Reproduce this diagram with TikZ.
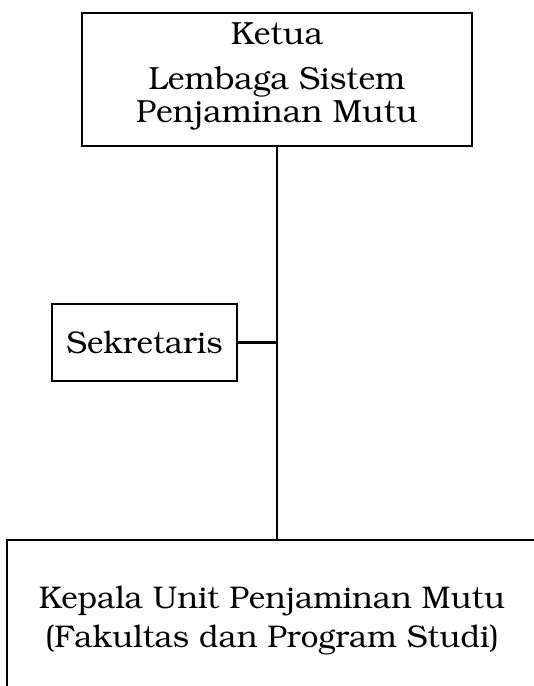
\documentclass[tikz,border=0pt]{standalone}
\usepackage[T1]{fontenc}
\usepackage{bookman}
\usepackage{xcolor}
\usetikzlibrary{calc,positioning}
\definecolor{ink}{HTML}{000000}
\definecolor{paper}{HTML}{FFFFFF}
\tikzset{
  box/.style={draw=ink, line width=2.1pt, align=center, inner sep=0pt,
    font=\fontsize{23.5}{24.75}\selectfont},
  boxtext/.style={align=center, inner sep=0pt, font=\fontsize{24}{24.75}\selectfont},
  link/.style={draw=ink, line width=2.1pt},
}

\begin{document}
\begin{tikzpicture}[x=0.75pt,y=-0.75pt]
  \useasboundingbox (0,0) rectangle (534,686);
  \fill[paper] (0,0) rectangle (534,686);
  \clip (0,0) rectangle (534,686);
  % boxes
  \node[box, minimum width=292.5pt, minimum height=99.75pt] (ketua) at (277,79.5) {};
  \node[boxtext] (ketuatext) at ([yshift=2.4pt]ketua.center)
    {Ketua\\[9.5pt]Lembaga Sistem\\Penjaminan Mutu};
  \node[box, minimum width=138.75pt, minimum height=57.75pt] (sekretaris) at (144.5,342.5)
    {Sekretaris};
  \node[box, minimum width=397.5pt, minimum height=121.5pt] (kepala) at (272,621)
    {Kepala Unit Penjaminan Mutu\\[5pt](Fakultas dan Program Studi)};
  % connectors
  \draw[link] (ketua.south) -- (ketua.south |- kepala.north);
  \draw[link] (sekretaris.east) -- (sekretaris.east -| ketua.south);
\end{tikzpicture}
\end{document}
